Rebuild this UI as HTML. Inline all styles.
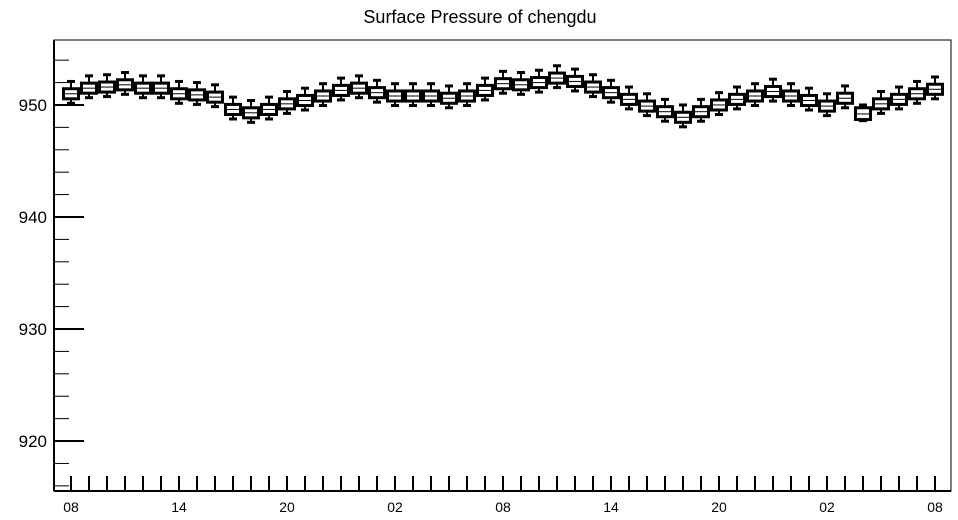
<!DOCTYPE html>
<html><head><meta charset="utf-8"><style>
body{margin:0;background:#fff;}
svg{display:block;font-family:"Liberation Sans",Arial,sans-serif;}
</style></head><body>
<svg id="chart" width="958" height="520">
<text x="480" y="23" text-anchor="middle" font-size="18">Surface Pressure of chengdu</text>
<rect x="54" y="40" width="897" height="451" fill="none" stroke="#000" stroke-width="1"/>
<g id="axes"></g>
<g id="boxes"></g>
</svg>
<script>
const hours = ["08","09","10","11","12","13","14","15","16","17","18","19","20","21","22","23","00","01","02","03","04","05","06","07","08","09","10","11","12","13","14","15","16","17","18","19","20","21","22","23","00","01","02","03","04","05","06","07","08"];
const medians = [951.0,951.5,951.6,951.8,951.5,951.5,951.0,950.9,950.7,949.6,949.3,949.6,950.1,950.4,950.8,951.3,951.5,951.1,950.8,950.8,950.8,950.6,950.8,951.3,951.9,951.8,952.0,952.4,952.1,951.6,951.1,950.5,949.9,949.4,948.9,949.4,950.0,950.5,950.8,951.2,950.8,950.4,949.9,950.6,949.2,950.1,950.5,951.0,951.4];
const q1s = [950.55,951.05,951.15,951.35,951.05,951.05,950.55,950.45,950.25,949.15,948.85,949.15,949.65,949.95,950.35,950.85,951.05,950.65,950.35,950.35,950.35,950.15,950.35,950.85,951.45,951.35,951.55,951.95,951.65,951.15,950.65,950.05,949.45,948.95,948.45,948.95,949.55,950.05,950.35,950.75,950.35,949.95,949.45,950.15,948.7,949.65,950.05,950.55,950.95];
const q3s = [951.45,951.95,952.05,952.25,951.95,951.95,951.45,951.35,951.15,950.05,949.75,950.05,950.55,950.85,951.25,951.75,951.95,951.55,951.25,951.25,951.25,951.05,951.25,951.75,952.35,952.25,952.45,952.85,952.55,952.05,951.55,950.95,950.35,949.85,949.35,949.85,950.45,950.95,951.25,951.65,951.25,950.85,950.35,951.05,949.75,950.55,950.95,951.45,951.85];
const lows = [950.15,950.65,950.75,950.95,950.65,950.65,950.15,950.05,949.85,948.75,948.45,948.75,949.25,949.55,949.95,950.45,950.65,950.25,949.95,949.95,949.95,949.75,949.95,950.45,951.05,950.95,951.15,951.55,951.25,950.75,950.25,949.65,949.05,948.55,948.05,948.55,949.15,949.65,949.95,950.35,949.95,949.55,949.05,949.75,948.6,949.25,949.65,950.15,950.55];
const highs = [952.1,952.6,952.7,952.9,952.6,952.6,952.1,952.0,951.8,950.7,950.4,950.7,951.2,951.5,951.9,952.4,952.6,952.2,951.9,951.9,951.9,951.7,951.9,952.4,953.0,952.9,953.1,953.5,953.2,952.7,952.2,951.6,951.0,950.5,950.0,950.5,951.1,951.6,951.9,952.3,951.9,951.5,951.0,951.7,950.0,951.2,951.6,952.1,952.5];
const yTicks = [920,930,940,950];

const NS="http://www.w3.org/2000/svg";
const yMin=915.54, yMax=955.8, plotTop=40, plotBot=491, plotLeft=54, plotRight=951;
function yScale(v){return plotBot-(v-yMin)/(yMax-yMin)*(plotBot-plotTop);}
function xScale(i){return 71+i*18;}
function mk(tag,attrs,parent){const e=document.createElementNS(NS,tag);for(const k in attrs)e.setAttribute(k,attrs[k]);parent.appendChild(e);return e;}
const ax=document.getElementById('axes'), bx=document.getElementById('boxes');
for(let v=916;v<=955;v+=2){
  const major=yTicks.includes(v);
  const t=mk('line',{x1:plotLeft,x2:plotLeft+(major?30:15),y1:yScale(v),y2:yScale(v),stroke:'#000','stroke-width':major?2:1},ax);
  
  
}
yTicks.forEach(v=>{
  const t=mk('text',{x:47,y:yScale(v)+6,'text-anchor':'end','font-size':'17'},ax);
  t.textContent=v;
  
  
});
hours.forEach((h,i)=>{
  const x=xScale(i);
  const t=mk('line',{x1:x,x2:x,y1:plotBot-15,y2:plotBot,stroke:'#000','stroke-width':2},ax);
  
  
  if(i%6===0){
    const l=mk('text',{x:x,y:512,'text-anchor':'middle','font-size':'14'},ax);
    l.textContent=h;
    
    
  }
});
mk('line',{x1:plotLeft,x2:plotLeft,y1:plotTop,y2:plotBot,stroke:'#000','stroke-width':2},ax);
mk('line',{x1:plotLeft,x2:plotRight,y1:plotBot,y2:plotBot,stroke:'#000','stroke-width':2},ax);
medians.forEach((m,i)=>{
  const x=xScale(i);
  const g=mk('g',{},bx);
  
  
  const yh=yScale(highs[i]), yl=yScale(lows[i]), y3=yScale(q3s[i]), y1=yScale(q1s[i]), ym=yScale(m);
  mk('line',{x1:x,x2:x,y1:yh,y2:y3,stroke:'#000','stroke-width':2},g);
  mk('line',{x1:x,x2:x,y1:y1,y2:yl,stroke:'#000','stroke-width':2},g);
  mk('line',{x1:x-4,x2:x+4,y1:yh,y2:yh,stroke:'#000','stroke-width':3},g);
  mk('line',{x1:x-4,x2:x+4,y1:yl,y2:yl,stroke:'#000','stroke-width':3},g);
  mk('rect',{x:x-7.5,y:y3,width:15,height:y1-y3,fill:'#fff',stroke:'#000','stroke-width':3},g);
  mk('line',{x1:x-7,x2:x+7,y1:ym,y2:ym,stroke:'#000','stroke-width':1},g);
});
</script>
</body></html>
